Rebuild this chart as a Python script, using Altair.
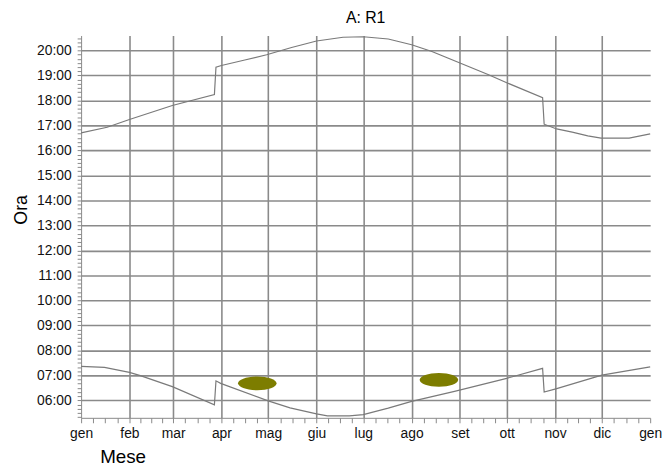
import json
import altair as alt
import pandas as pd

# ---- data ----
month_starts = [0, 31, 59, 90, 120, 151, 181, 212, 243, 273, 304, 334, 365]
month_names = ["gen", "feb", "mar", "apr", "mag", "giu", "lug", "ago", "set", "ott", "nov", "dic", "gen"]

sunset_days = [0, 16.7, 31, 58.5, 85.5, 86.5, 90, 105, 119, 135, 151, 168, 181, 197, 212, 225, 243, 261, 273,
               296, 297, 305, 315, 325, 333.5, 351.5, 365]
sunset_hours = [16.70, 16.93, 17.24, 17.80, 18.24, 19.33, 19.40, 19.62, 19.83, 20.12, 20.38, 20.53, 20.55, 20.46,
                20.23, 19.96, 19.50, 19.04, 18.71, 18.11, 17.05, 16.86, 16.73, 16.58, 16.49, 16.49, 16.66]

sunrise_days = [0, 15, 31, 38, 58.5, 85.5, 86.5, 89.5, 120, 134, 151, 158, 172, 181, 197, 212, 239.5, 273,
                296, 297, 304.5, 334, 365]
sunrise_hours = [7.36, 7.32, 7.12, 6.99, 6.55, 5.82, 6.78, 6.68, 5.98, 5.70, 5.46, 5.38, 5.38, 5.43, 5.69,
                 5.96, 6.36, 6.88, 7.28, 6.33, 6.46, 7.01, 7.34]

blob_days = [113, 229.5]
blob_hours = [6.68, 6.82]

# ---- tables ----
lines = pd.concat([
    pd.DataFrame({"giorno": sunset_days, "ora": sunset_hours, "serie": "tramonto"}),
    pd.DataFrame({"giorno": sunrise_days, "ora": sunrise_hours, "serie": "alba"}),
])
blobs = pd.DataFrame({"giorno": blob_days, "ora": blob_hours})

# tick values (major months + quarter-month minor ticks; hours + 10-minute minor ticks)
x_ticks = []
for a, b in zip(month_starts[:-1], month_starts[1:]):
    x_ticks += [a + (b - a) * k / 4 for k in range(4)]
x_ticks.append(month_starts[-1])
y_ticks = [round(k / 6, 6) for k in range(32, 124)]

ms = json.dumps(month_starts)
mn = json.dumps(month_names)
x_label_expr = f"indexof({ms}, datum.value) >= 0 ? {mn}[indexof({ms}, datum.value)] : ''"
x_grid = {"condition": {"test": f"indexof({ms}, datum.value) > 0 && datum.value < 365", "value": 1}, "value": 0}

is_hour = "abs(datum.value - round(datum.value)) < 0.01"
y_label_expr = f"{is_hour} ? (round(datum.value) < 10 ? '0' : '') + round(datum.value) + ':00' : ''"
y_grid = {"condition": {"test": is_hour, "value": 1}, "value": 0}

FONT = "Liberation Sans"

x_enc = alt.X(
    "giorno:Q",
    scale=alt.Scale(domain=[0, 365], nice=False, zero=False),
    axis=alt.Axis(
        values=x_ticks, tickCount=500, labelExpr=x_label_expr, gridOpacity=x_grid,
        labelOverlap=False, labelFlush=False,
        title="Mese", titleX=42, titleY=45, titleAlign="center", titleBaseline="alphabetic",
        titleFontSize=19, titleFontWeight="normal", titleFont=FONT, titleColor="#000",
        labelFont=FONT, labelFontSize=14, labelColor="#111", labelPadding=4,
        tickSize=5, tickColor="#888", domainColor="#888",
        gridColor="#8a8a8a", gridWidth=1.6,
    ),
)
y_enc = alt.Y(
    "ora:Q",
    scale=alt.Scale(domain=[5.3, 20.6], nice=False, zero=False),
    axis=alt.Axis(
        values=y_ticks, tickCount=500, labelExpr=y_label_expr, gridOpacity=y_grid,
        labelOverlap=False, labelFlush=False,
        title="Ora", titleX=-55, titleY=176, titleAlign="center", titleBaseline="alphabetic", titleAngle=-90,
        titleFontSize=18, titleFontWeight="normal", titleFont=FONT, titleColor="#000",
        labelFont=FONT, labelFontSize=14, labelColor="#111", labelPadding=6,
        tickSize=4, tickColor="#888", domainColor="#888",
        gridColor="#8a8a8a", gridWidth=1.6,
    ),
)

line_layer = alt.Chart(lines).mark_line(color="#7a7a7a", strokeWidth=1.2).encode(
    x=x_enc, y=y_enc, detail="serie:N"
)

ellipse = "M -1 0 A 1 0.36 0 1 1 1 0 A 1 0.36 0 1 1 -1 0 Z"
blob_layer = alt.Chart(blobs).mark_point(
    shape=ellipse, filled=True, color="#7d7d00", opacity=1, size=1520, strokeWidth=0
).encode(x="giorno:Q", y="ora:Q")

chart = (
    alt.layer(line_layer, blob_layer)
    .properties(
        width=576, height=387,
        autosize=alt.AutoSizeParams(type="none"),
        padding={"left": 74, "top": 25, "right": 14, "bottom": 52},
        title=alt.TitleParams("A: R1", font=FONT, fontSize=16, fontWeight="normal", color="#000",
                              anchor="middle", offset=5),
        background="white",
    )
    .configure_view(stroke=None)
)

chart.save("out.html", embed_options={"renderer": "svg", "actions": False})
